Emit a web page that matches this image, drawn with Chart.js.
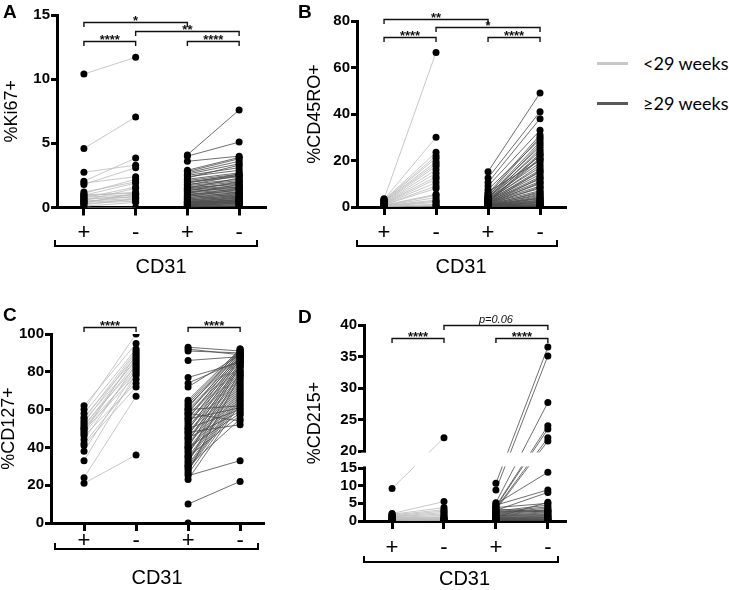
<!DOCTYPE html>
<html>
<head>
<meta charset="utf-8">
<script src="https://cdn.jsdelivr.net/npm/chart.js@4.4.1/dist/chart.umd.min.js"></script>
<style>
  html, body { margin: 0; padding: 0; background: #fff; width: 729px; height: 590px; overflow: hidden; }
  canvas { position: absolute; display: block; }
  .letter { position: absolute; font: bold 19px "Liberation Sans", Arial, sans-serif; line-height: 19px; }
  .legline { position: absolute; width: 31px; height: 3px; }
  .legtext { position: absolute; font: 18px Lato, sans-serif; line-height: 20px; color: #000; }
</style>
</head>
<body>
<canvas id="chA" width="290" height="290" style="left:0;top:0"></canvas>
<canvas id="chB" width="290" height="290" style="left:290px;top:0"></canvas>
<canvas id="chC" width="290" height="300" style="left:0;top:290px"></canvas>
<canvas id="chD" width="290" height="300" style="left:290px;top:290px"></canvas>

<div class="letter" style="left:3px;top:2px">A</div>
<div class="letter" style="left:298px;top:2px">B</div>
<div class="letter" style="left:3px;top:305px">C</div>
<div class="letter" style="left:298px;top:307px">D</div>

<div class="legline" style="left:597px;top:62px;background:#c8c8c8"></div>
<div class="legtext" style="left:643px;top:53px">&lt;29 weeks</div>
<div class="legline" style="left:597px;top:102px;background:#595959"></div>
<div class="legtext" style="left:643px;top:93px">≥29 weeks</div>

<script>
// categories on the x axis (CD31 + / -, for each group)
const xLabels = ['+', '-', '+', '-'];

// A : %Ki67+
const kiPrePlus  = [10.4, 4.6, 2.75, 2.05, 1.9, 1.8, 1.2, 1.1, 1.0, 0.95, 0.9, 0.8, 0.75, 0.7, 0.6, 0.55, 0.5, 0.45, 0.4, 0.35, 0.3, 0.2, 0.1, 0.0];
const kiPreMinus = [11.7, 7.05, 3.3, 3.85, 2.4, 3.1, 2.0, 2.2, 1.1, 1.9, 1.2, 1.0, 1.6, 0.8, 1.0, 1.5, 0.7, 0.9, 0.6, 1.1, 0.5, 0.7, 0.4, 0.0];
const kiTermPlus = [4.1, 4.0, 3.6, 2.9, 2.8, 2.7, 2.6, 2.5, 2.4, 2.3,
  2.2, 2.1, 2.0, 1.95, 1.9, 1.8, 1.75, 1.7, 1.6, 1.55,
  1.5, 1.45, 1.4, 1.35, 1.3, 1.25, 1.2, 1.15, 1.1, 1.05,
  1.0, 0.95, 0.9, 0.85, 0.8, 0.75, 0.7, 0.65, 0.6, 0.55,
  0.5, 0.48, 0.45, 0.42, 0.4, 0.38, 0.35, 0.32, 0.3, 0.28,
  0.25, 0.22, 0.2, 0.18, 0.15, 0.12, 0.1, 0.08, 0.05, 0.03];
const kiTermMinus = [7.6, 5.1, 4.0, 3.9, 3.8, 3.6, 3.4, 3.1, 2.9, 3.3,
  2.7, 2.6, 2.5, 2.4, 2.6, 2.2, 2.5, 2.1, 2.0, 1.8,
  2.3, 1.9, 1.7, 1.6, 2.0, 1.5, 1.6, 1.4, 1.8, 1.3,
  1.2, 1.5, 1.1, 1.4, 1.0, 1.2, 0.9, 1.1, 0.8, 1.0,
  0.9, 0.7, 0.8, 0.6, 0.75, 0.55, 0.65, 0.5, 0.6, 0.45,
  0.5, 0.4, 0.45, 0.35, 0.3, 0.35, 0.25, 0.2, 0.15, 0.1];
const kiTicks = [0, 5, 10, 15];

// B : %CD45RO+
const roPrePlus  = [3.5, 3.2, 3.0, 2.8, 2.6, 2.4, 2.2, 2.0, 1.8, 1.6, 1.5, 1.3, 1.2, 1.0, 0.9, 0.8, 0.7, 0.6, 0.5, 0.4, 0.3, 0.2, 0.1, 0.0];
const roPreMinus = [66.5, 30.0, 23.5, 22.0, 21.0, 19.5, 18.5, 17.5, 16.0, 14.5, 13.0, 12.0, 10.5, 9.0, 8.0, 5.5, 5.0, 4.0, 3.0, 2.5, 2.0, 1.2, 0.8, 0.3];
const roTermPlus = [15.2, 12.5, 10.5, 9.0, 7.5, 6.5, 5.8, 5.2, 4.8, 4.5,
  4.2, 4.0, 3.8, 3.6, 3.4, 3.2, 3.0, 2.9, 2.8, 2.7,
  2.6, 2.5, 2.4, 2.3, 2.2, 2.1, 2.0, 1.9, 1.8, 1.7,
  1.6, 1.5, 1.4, 1.3, 1.2, 1.1, 1.0, 0.95, 0.9, 0.85,
  0.8, 0.75, 0.7, 0.65, 0.6, 0.55, 0.5, 0.45, 0.4, 0.35,
  0.3, 0.25, 0.2, 0.15, 0.1, 0.05];
const roTermMinus = [49.0, 41.0, 38.0, 33.0, 29.0, 20.0, 31.0, 30.0, 26.0, 28.0,
  24.0, 22.0, 27.0, 19.0, 25.0, 17.0, 23.0, 15.0, 21.0, 18.0,
  14.0, 16.0, 12.0, 20.5, 13.0, 11.0, 10.0, 22.5, 9.0, 8.0,
  15.5, 7.0, 12.5, 6.0, 10.5, 5.0, 8.5, 4.0, 6.5, 3.5,
  5.5, 3.0, 4.5, 2.5, 3.8, 2.0, 2.8, 1.5, 2.2, 1.0,
  1.8, 0.8, 1.2, 0.5, 0.6, 0.2];
const roTicks = [0, 20, 40, 60, 80];

// C : %CD127+
const il7PrePlus  = [62, 60, 58, 56, 55, 54, 53, 52, 51, 50, 50, 49, 48, 47, 46, 44, 42, 41, 38, 33, 24, 21];
const il7PreMinus = [95, 100, 92, 88, 91, 86, 90, 83, 87, 80, 85, 78, 89, 82, 74, 84, 76, 72, 81, 79, 67, 36];
const il7TermPlus = [93, 92, 91, 86, 77, 74, 72, 65, 64, 63,
  62, 61, 60, 59, 58, 57, 56, 55, 54, 53,
  52, 51, 50, 49, 48, 47, 46, 45, 44, 43,
  42, 41, 40, 39, 38, 37, 36, 35, 34, 33,
  32, 31, 30, 29, 28, 27, 26, 25, 23, 10,
  0, 60, 55, 50, 45, 40, 35, 30, 58, 48];
const il7TermMinus = [91, 89, 90, 88, 85, 86, 89, 92, 91, 90,
  89, 92, 88, 87, 91, 86, 85, 90, 84, 83,
  89, 82, 81, 88, 80, 79, 87, 78, 77, 85,
  76, 75, 84, 74, 73, 72, 83, 71, 70, 69,
  80, 68, 67, 66, 65, 78, 64, 33, 63, 22,
  null, 62, 61, 60, 59, 58, 57, 55, 54, 52];
const il7Ticks = [0, 20, 40, 60, 80, 100];

// D : %CD215+
const il15PrePlus  = [9.2, 2.1, 1.9, 1.7, 1.5, 1.3, 1.2, 1.0, 0.9, 0.8, 0.6, 0.5, 0.4, 0.3, 0.2, 0.1, 0.0];
const il15PreMinus = [22.1, 5.5, 3.8, 3.2, 2.8, 2.4, 2.0, 1.6, 1.2, 1.0, 0.8, 0.6, 0.5, 0.4, 0.3, 0.2, 0.1];
const il15TermPlus = [10.7, 8.8, 5.2, 4.8, 4.5, 4.2, 4.0, 3.8, 3.5, 3.2,
  3.0, 2.8, 2.6, 2.4, 2.2, 2.0, 1.8, 1.6, 1.5, 1.4,
  1.2, 1.0, 0.9, 0.8, 0.7, 0.6, 0.5, 0.4, 0.3, 0.2,
  0.1, 0.0, 1.1, 2.5, 3.4];
const il15TermMinus = [36.5, 35.1, 27.7, 13.8, 8.8, 24.0, 23.5, 5.0, 22.1, 21.6,
  8.1, 4.5, 4.0, 3.6, 3.2, 2.9, 2.6, 2.3, 2.0, 1.8,
  1.6, 1.4, 1.2, 1.0, 0.9, 0.8, 0.6, 0.5, 0.4, 0.3,
  0.2, 0.1, 5.3, 3.0, 2.5];
const il15Ticks = [0, 5, 10, 15, 20, 25, 30, 35, 40];

// significance brackets : [from, to, level, label]
const kiSig   = [[1, 3, 14.48, '*'], [2, 4, 13.75, '**'], [1, 2, 13.0, '****'], [3, 4, 13.0, '****']];
const roSig   = [[1, 3, 80.9, '**'], [2, 4, 77.5, '*'], [1, 2, 73.0, '****'], [3, 4, 73.0, '****']];
const il7Sig  = [[1, 2, 103.5, '****'], [3, 4, 103.5, '****']];
const il15Sig = [[2, 4, 40.0, 'p=0.06'], [1, 2, 37.9, '****'], [3, 4, 37.9, '****']];

const FONT = '"Liberation Sans", Arial, sans-serif';
const LIGHT = '#bababa';
const DARK = '#4a4a4a';

// axe Y coupé (panneau D) : 0-15 en bas, 20-40 en haut
class BrokenScale extends Chart.LinearScale {
  getPixelForValue(value) {
    if (value === null || value === undefined) return NaN;
    const lo = this.options.brk[0], hi = this.options.brk[1];
    const f0 = this.options.brkFrac[0], f1 = this.options.brkFrac[1];
    let d;
    if (value <= lo) d = (value - this.min) / (lo - this.min) * f0;
    else if (value >= hi) d = f1 + (value - hi) / (this.max - hi) * (1 - f1);
    else d = f0 + (value - lo) / (hi - lo) * (f1 - f0);
    return this.getPixelForDecimal(d);
  }
  getValueForPixel(pixel) {
    const d = this.getDecimalForPixel(pixel);
    const lo = this.options.brk[0], hi = this.options.brk[1];
    const f0 = this.options.brkFrac[0], f1 = this.options.brkFrac[1];
    if (d <= f0) return this.min + d / f0 * (lo - this.min);
    if (d >= f1) return hi + (d - f1) / (1 - f1) * (this.max - hi);
    return lo + (d - f0) / (f1 - f0) * (hi - lo);
  }
}
BrokenScale.id = 'broken';
BrokenScale.defaults = {};
Chart.register(BrokenScale);

const panelCfg = {};

// brackets, gap and CD31 grouping line
const decor = {
  id: 'decor',
  afterDatasetsDraw(chart) {
    const p = panelCfg[chart.canvas.id];
    const ctx = chart.ctx, xs = chart.scales.x, ys = chart.scales.y, area = chart.chartArea;
    ctx.save();
    if (p.gap) {
      const yTop = ys.getPixelForValue(p.gap[1]) + 1.6;
      const yBot = ys.getPixelForValue(p.gap[0]) - 1.6;
      ctx.fillStyle = '#fff';
      ctx.fillRect(area.left - 3, yTop, area.right - area.left + 6, yBot - yTop);
    }
    ctx.strokeStyle = '#111';
    ctx.fillStyle = '#111';
    ctx.lineWidth = 1.4;
    ctx.textAlign = 'center';
    ctx.textBaseline = 'alphabetic';
    p.sig.forEach(([a, b, v, label]) => {
      const x1 = xs.getPixelForValue(a), x2 = xs.getPixelForValue(b);
      const y = Math.round(ys.getPixelForValue(v)) + 0.5;
      ctx.beginPath();
      ctx.moveTo(x1, y + 4.5); ctx.lineTo(x1, y); ctx.lineTo(x2, y); ctx.lineTo(x2, y + 4.5);
      ctx.stroke();
      if (label.startsWith('p')) {
        ctx.font = 'italic 11px ' + FONT;
        ctx.fillText(label, (x1 + x2) / 2, y - 3);
      } else {
        ctx.font = 'bold 13px ' + FONT;
        ctx.fillText(label, (x1 + x2) / 2, y + 2);
      }
    });
    const g = p.group;
    ctx.strokeStyle = '#000';
    ctx.lineWidth = 2;
    ctx.beginPath();
    ctx.moveTo(g.x1, g.y - 6); ctx.lineTo(g.x1, g.y); ctx.lineTo(g.x2, g.y); ctx.lineTo(g.x2, g.y - 6);
    ctx.stroke();
    ctx.restore();
  }
};

function pairSets(plus, minus, x0, color) {
  return plus.map((v, i) => ({
    data: [{ x: x0, y: v }, { x: x0 + 1, y: minus[i] === undefined ? null : minus[i] }],
    showLine: true,
    borderColor: color,
    borderWidth: 0.8,
    pointRadius: 0,
    order: 1
  }));
}

function makePanel(id, p) {
  panelCfg[id] = p;
  const cv = document.getElementById(id);
  const dots = [];
  [[p.prePlus, 1], [p.preMinus, 2], [p.termPlus, 3], [p.termMinus, 4]].forEach(([arr, x]) => {
    arr.forEach(v => { if (v !== null) dots.push({ x: x, y: v }); });
  });
  const lines = pairSets(p.prePlus, p.preMinus, 1, LIGHT).concat(pairSets(p.termPlus, p.termMinus, 3, DARK));

  const yScale = {
    type: p.yType || 'linear',
    min: p.yTicks[0],
    max: p.yTicks[p.yTicks.length - 1],
    afterBuildTicks: s => { s.ticks = p.yTicks.map(v => ({ value: v })); },
    afterFit: s => { s.width = p.area.l; },
    border: { color: '#000', width: 3 },
    grid: { drawOnChartArea: false, color: '#000', lineWidth: 3, tickLength: 6 },
    ticks: { autoSkip: false, color: '#000', padding: 1, font: { family: FONT, size: 15, weight: 'bold' } },
    title: { display: true, text: p.yTitle, color: '#000', font: { family: FONT, size: 18, lineHeight: 1 }, padding: { top: p.yTitlePad, bottom: 0 } }
  };
  if (p.brk) { yScale.brk = p.brk; yScale.brkFrac = p.brkFrac; }

  new Chart(cv, {
    type: 'scatter',
    data: {
      datasets: [{ data: dots, pointRadius: 3.5, pointHoverRadius: 3.5, backgroundColor: '#000', borderWidth: 0, order: 0 }].concat(lines)
    },
    options: {
      responsive: false,
      animation: false,
      devicePixelRatio: 1,
      events: [],
      layout: { autoPadding: false, padding: { left: 0, top: p.area.t, right: cv.width - p.area.r, bottom: 0 } },
      plugins: { legend: { display: false }, tooltip: { enabled: false } },
      scales: {
        x: {
          type: 'linear',
          min: p.xMin,
          max: p.xMax,
          afterBuildTicks: s => { s.ticks = xLabels.map((_, i) => ({ value: i + 1 })); },
          afterFit: s => { s.height = cv.height - p.area.b; },
          border: { color: '#000', width: 3 },
          grid: { drawOnChartArea: false, color: '#000', lineWidth: 3, tickLength: 8 },
          ticks: {
            autoSkip: false, maxRotation: 0, color: '#000', padding: p.xPad,
            font: { family: FONT, size: 22, lineHeight: 1 },
            callback: v => xLabels[Math.round(v) - 1]
          },
          title: { display: true, text: 'CD31', color: '#000', font: { family: FONT, size: 20, lineHeight: 1 }, padding: { top: 0, bottom: p.xTitlePad } }
        },
        y: yScale
      }
    },
    plugins: [decor]
  });
}

makePanel('chA', {
  prePlus: kiPrePlus, preMinus: kiPreMinus, termPlus: kiTermPlus, termMinus: kiTermMinus,
  yTicks: kiTicks, yTitle: '%Ki67+', sig: kiSig,
  area: { l: 57, r: 265, t: 15, b: 207.5 }, xMin: 0.48, xMax: 4.5,
  xPad: 6.5, xTitlePad: 13, yTitlePad: 3, group: { x1: 55, x2: 257, y: 246 }
});
makePanel('chB', {
  prePlus: roPrePlus, preMinus: roPreMinus, termPlus: roTermPlus, termMinus: roTermMinus,
  yTicks: roTicks, yTitle: '%CD45RO+', sig: roSig,
  area: { l: 67, r: 275, t: 21, b: 207 }, xMin: 0.48, xMax: 4.48,
  xPad: 7, xTitlePad: 13, yTitlePad: 16, group: { x1: 67, x2: 267, y: 246 }
});
makePanel('chC', {
  prePlus: il7PrePlus, preMinus: il7PreMinus, termPlus: il7TermPlus, termMinus: il7TermMinus,
  yTicks: il7Ticks, yTitle: '%CD127+', sig: il7Sig,
  area: { l: 51, r: 263, t: 44, b: 233 }, xMin: 0.365, xMax: 4.44,
  xPad: -1, xTitlePad: 2, yTitlePad: 0.5, group: { x1: 55, x2: 258, y: 259 }
});
makePanel('chD', {
  prePlus: il15PrePlus, preMinus: il15PreMinus, termPlus: il15TermPlus, termMinus: il15TermMinus,
  yTicks: il15Ticks, yTitle: '%CD215+', sig: il15Sig, yType: 'broken',
  brk: [15, 20], brkFrac: [0.2704, 0.357], gap: [15, 20],
  area: { l: 74, r: 275, t: 35, b: 231 }, xMin: 0.46, xMax: 4.33,
  xPad: 8, xTitlePad: 1, yTitlePad: 16, group: { x1: 74, x2: 268, y: 272 }
});
</script>
</body>
</html>
